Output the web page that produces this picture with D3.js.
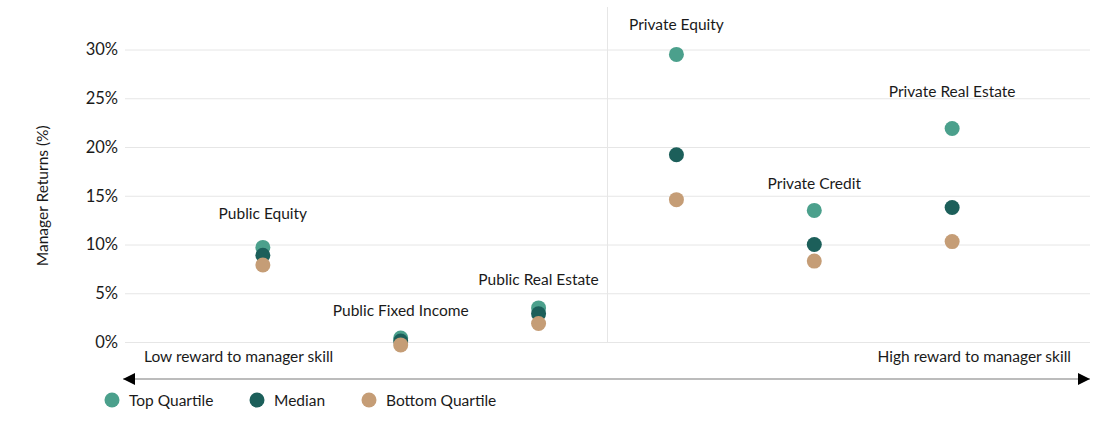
<!DOCTYPE html>
<html>
<head>
<meta charset="utf-8">
<script src="https://cdn.jsdelivr.net/npm/d3@7"></script>
<style>
  body { margin: 0; background: #fff; }
  svg text { font-family: Lato, "Noto Sans", sans-serif; fill: #1a1a1a; }
</style>
</head>
<body>
<div id="chart"></div>
<script>
// Data
const categories = ["Public Equity", "Public Fixed Income", "Public Real Estate",
                    "Private Equity", "Private Credit", "Private Real Estate"];
const topQuartile    = [9.7, 0.4, 3.5, 29.5, 13.5, 21.9];
const median         = [8.9, 0.1, 2.9, 19.2, 10.0, 13.8];
const bottomQuartile = [7.9, -0.3, 1.9, 14.6, 8.3, 10.3];
const yTicks = [0, 5, 10, 15, 20, 25, 30];
const seriesNames = ["Top Quartile", "Median", "Bottom Quartile"];
const seriesColours = ["#4ba08c", "#1c5f5a", "#c59d76"];
// label baseline above each category, in % units of the y scale
const labelLevels = [12.6, 2.7, 5.85, 31.95, 15.7, 25.1];

const width = 1112;
const height = 423;
const margin = {top: 49.5, right: 22, bottom: 81, left: 125};
const fontSize = 15.5;

const svg = d3.select("#chart")
  .append("svg")
    .attr("width", width)
    .attr("height", height);

const xScale = d3.scaleLinear()
  .domain([0, categories.length + 1])
  .range([margin.left, width - margin.right]);

const yScale = d3.scaleLinear()
  .domain([0, 30])
  .range([height - margin.bottom, margin.top]);

// gridlines + tick labels
const yAxis = d3.axisLeft(yScale)
  .tickValues(yTicks)
  .tickSize(-(xScale.range()[1] - xScale.range()[0]))
  .tickPadding(7)
  .tickFormat(d => d + "%");

svg.append("g")
    .attr("transform", `translate(${margin.left}, 0)`)
    .call(yAxis)
    .call(g => g.select(".domain").remove())
    .call(g => g.selectAll(".tick line").attr("stroke", "#e6e6e6"))
    .call(g => g.selectAll(".tick text")
      .attr("font-size", 16.5)
      .attr("fill", "#1a1a1a"));

// divider between public and private
svg.append("line")
  .attr("x1", xScale(3.5))
  .attr("x2", xScale(3.5))
  .attr("y1", 7)
  .attr("y2", yScale(0))
  .attr("stroke", "#e6e6e6");

// y axis title
svg.append("text")
  .text("Manager Returns (%)")
  .attr("transform", `translate(48, ${yScale(15)}) rotate(-90)`)
  .attr("text-anchor", "middle")
  .attr("font-size", 15.5);

// points
const allSeries = [topQuartile, median, bottomQuartile];
allSeries.forEach((values, s) => {
  svg.append("g")
    .selectAll("circle")
    .data(values)
    .join("circle")
      .attr("cx", (d, i) => xScale(i + 1))
      .attr("cy", d => yScale(d))
      .attr("r", 7.5)
      .attr("fill", seriesColours[s]);
});

// category labels
svg.append("g")
  .selectAll("text")
  .data(categories)
  .join("text")
    .text(d => d)
    .attr("x", (d, i) => xScale(i + 1))
    .attr("y", (d, i) => yScale(labelLevels[i]))
    .attr("text-anchor", "middle")
    .attr("font-size", fontSize);

// reward axis arrow
const arrowY = 379;
const defs = svg.append("defs");
defs.append("marker")
    .attr("id", "arrow")
    .attr("viewBox", "0 0 10 10")
    .attr("refX", 10)
    .attr("refY", 5)
    .attr("markerWidth", 12)
    .attr("markerHeight", 13)
    .attr("markerUnits", "userSpaceOnUse")
    .attr("orient", "auto-start-reverse")
  .append("path")
    .attr("d", "M0,0 L10,5 L0,10 Z")
    .attr("fill", "#000");

svg.append("line")
  .attr("x1", xScale(0) - 2)
  .attr("x2", xScale(categories.length + 1))
  .attr("y1", arrowY)
  .attr("y2", arrowY)
  .attr("stroke", "#a6a6a6")
  .attr("stroke-width", 1.5)
  .attr("marker-start", "url(#arrow)")
  .attr("marker-end", "url(#arrow)");

svg.append("text")
  .text("Low reward to manager skill")
  .attr("x", 144)
  .attr("y", 362)
  .attr("font-size", fontSize);

svg.append("text")
  .text("High reward to manager skill")
  .attr("x", 1071)
  .attr("y", 362)
  .attr("text-anchor", "end")
  .attr("font-size", fontSize);

// legend
const legendX = [112, 257, 369];
const legend = svg.append("g")
  .selectAll("g")
  .data(seriesNames)
  .join("g")
    .attr("transform", (d, i) => `translate(${legendX[i]}, 400)`);

legend.append("circle")
  .attr("r", 7.5)
  .attr("fill", (d, i) => seriesColours[i]);

legend.append("text")
  .text(d => d)
  .attr("x", 17)
  .attr("y", 5.5)
  .attr("font-size", fontSize);
</script>
</body>
</html>
